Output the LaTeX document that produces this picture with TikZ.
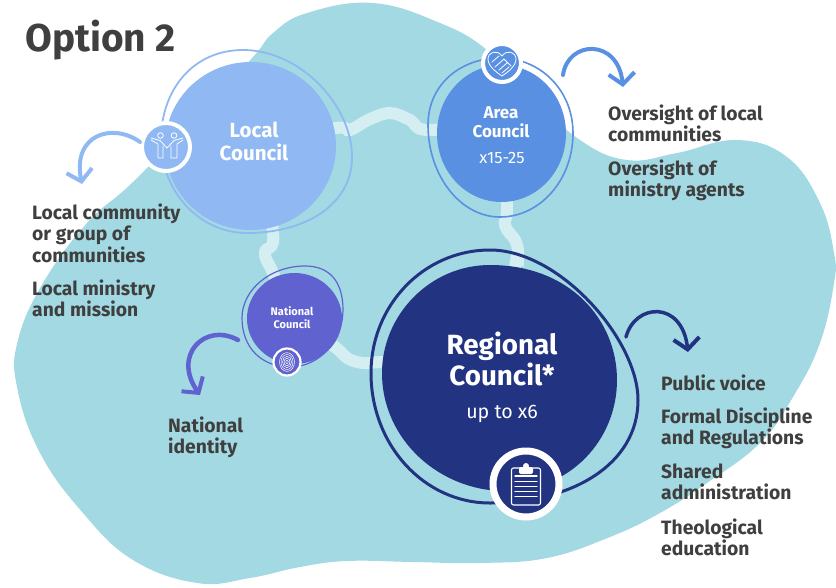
\documentclass[tikz,border=0pt]{standalone}
\usepackage{fontspec}
\setmainfont{Fira Sans}
\usetikzlibrary{arrows.meta,backgrounds}

\definecolor{blobcol}{HTML}{A3D9E2}
\definecolor{linkcol}{HTML}{D5EEF2}
\definecolor{localcol}{HTML}{90B8F2}
\definecolor{areacol}{HTML}{5A90E2}
\definecolor{nationalcol}{HTML}{6062D0}
\definecolor{regionalcol}{HTML}{223382}
\definecolor{inkcol}{HTML}{3F3F3F}

\tikzset{
  iconbadge/.style={circle, inner sep=0pt, draw=white, fill=#1},
  linkline/.style={line width=12pt, linkcol},
  handarrow/.style={line width=4pt, line cap=round, line join=round, -{Straight Barb[length=11pt,width=26pt,line width=4pt]}},
  infotext/.style={anchor=north west, align=left, inkcol, font=\fontsize{19.3}{21.5}\selectfont\bfseries, inner sep=0pt},
  namelabel/.style 2 args={white, align=center, font=\fontsize{#1}{#2}\selectfont\bfseries, inner sep=0pt},
  iconline/.style={white, line width=0.8pt, line join=round, line cap=round}
}

\begin{document}
\begin{tikzpicture}[x=1pt, y=-1pt]
  \useasboundingbox (0,0) rectangle (836,587);

  % Council names
  \node[namelabel={20.5}{23}] (localcouncil) at (254,141) {Local\\Council};
  \node[namelabel={17}{19.5}] (areacouncil) at (501,122) {Area\\Council};
  \node[namelabel={11}{13}] (nationalcouncil) at (292,318) {National\\Council};
  \node[namelabel={27.8}{31}] (regionalcouncil) at (502,359) {Regional\\Council*};
  \node[white, font=\fontsize{16.5}{18}\selectfont, inner sep=0pt] (areacount) at (502,158) {x15-25};
  \node[white, font=\fontsize{19.6}{22}\selectfont, inner sep=0pt] (regionalcount) at (502,414) {up to x6};

  % Blob, wavy links and council shapes go behind
  \begin{scope}[on background layer]
    \fill[blobcol] plot[smooth cycle, tension=0.7] coordinates {
      (307,13) (373,3) (440,23) (487,50) (530,95) (580,140) (627,160) (677,153)
      (737,140) (787,157) (820,203) (834,253) (834,283) (820,343) (793,397) (760,443)
      (707,483) (660,513) (610,537) (547,558) (480,563) (413,562) (347,561) (300,567)
      (250,578) (197,583) (133,560) (83,513) (40,453) (17,387) (18,340) (43,283)
      (87,223) (133,182) (200,113) (253,57) (273,33)};

    \draw[linkline] plot[smooth, tension=0.6] coordinates {(localcouncil) (336,128) (350,130) (368,120) (390,113) (410,120) (428,130) (areacouncil)};
    \draw[linkline] plot[smooth, tension=0.7] coordinates {(localcouncil) (273,232) (265,253) (273,273) (nationalcouncil)};
    \draw[linkline] plot[smooth, tension=0.6] coordinates {(nationalcouncil) (335,347) (347,358) (363,363) (385,362) (regionalcouncil)};
    \draw[linkline] plot[smooth, tension=0.7] coordinates {(areacouncil) (507,203) (505,225) (515,240) (518,253) (515,267) (regionalcouncil)};

    \fill[localcol] (250.5,146) ellipse (85.5 and 84);
    \fill[areacol] (501.5,133.5) ellipse (64.5 and 68.5);
    \fill[nationalcol] (294.5,318.5) ellipse (47.5 and 45.5);
    \fill[regionalcol] (490,265) .. controls (430,265) and (382,315) .. (382,373)
      .. controls (382,440) and (440,491) .. (505,491)
      .. controls (570,491) and (617,440) .. (617,380)
      .. controls (617,320) and (570,265) .. (490,265) -- cycle;

    % Thin rings round the councils
    \draw[localcol, line width=1.8pt] (243,50) .. controls (193,50) and (161,90) .. (161,140)
      .. controls (161,192) and (200,233) .. (247,233)
      .. controls (305,233) and (352,205) .. (352,157)
      .. controls (352,105) and (300,50) .. (243,50) -- cycle;
    \draw[areacol, line width=1.6pt] (500,58) .. controls (460,58) and (428,85) .. (428,125)
      .. controls (428,175) and (460,217) .. (500,217)
      .. controls (540,217) and (573,180) .. (573,133)
      .. controls (573,90) and (540,58) .. (500,58) -- cycle;
    \draw[nationalcol, line width=1.2pt] (305,266) .. controls (270,266) and (242,290) .. (242,318)
      .. controls (242,348) and (262,367) .. (290,367)
      .. controls (320,367) and (343,340) .. (343,310)
      .. controls (343,282) and (330,266) .. (305,266) -- cycle;
    \draw[regionalcol, line width=3pt] (490,250) .. controls (424,250) and (371,305) .. (371,373)
      .. controls (371,445) and (424,503) .. (490,503)
      .. controls (571,503) and (638,465) .. (638,400)
      .. controls (638,340) and (560,250) .. (490,250) -- cycle;
  \end{scope}

  % Icon badges
  \node[iconbadge=localcol, line width=4pt, minimum size=48pt] (localicon) at (166,147) {};
  \node[iconbadge=areacol, line width=4pt, minimum size=38pt] (areaicon) at (502,63) {};
  \node[iconbadge=nationalcol, line width=2.2pt, minimum size=27pt] (nationalicon) at (287,362) {};
  \node[iconbadge=regionalcol, line width=7pt, minimum size=66pt] (regionalicon) at (526,484) {};

  % Two people
  \begin{scope}[shift={(localicon.center)}, iconline]
    \draw (-5.5,-11.5) circle (2.8);
    \draw (8,-11.5) circle (2.8);
    \draw (-15,-9) -- (-6,-6.5) -- (1,1) -- (8,-6.5) -- (17,-9);
    \draw (-15,-7) -- (-8,-3) -- (-8,11) -- (-3,11) -- (-3,-1);
    \draw (17,-7) -- (11,-3) -- (11,11) -- (5,11) -- (5,-1);
  \end{scope}

  % Heart with handshake
  \begin{scope}[shift={(areaicon.center)}, iconline]
    \draw (0,-7) .. controls (-5,-14) and (-14,-11) .. (-14,-4) .. controls (-14,3) and (-6,9) .. (0,13)
      .. controls (6,9) and (14,3) .. (14,-4) .. controls (14,-11) and (5,-14) .. (0,-7);
    \draw (-7,4) -- (2,-4) -- (9,3) (-3,7) -- (5,0) (-10,-1) -- (-3,-7) (0,10) -- (7,4);
  \end{scope}

  % Fingerprint
  \begin{scope}[shift={(nationalicon.center)}, iconline, line width=0.5pt]
    \foreach \r in {1.5,3,4.5,6,7.5} {
      \draw (0,0) ellipse ({\r} and {1.25*\r});
    }
  \end{scope}

  % Clipboard
  \begin{scope}[shift={(regionalicon.center)}, iconline, line width=1.1pt]
    \draw[rounded corners=2pt] (-14.5,-16) rectangle (14.5,21);
    \fill[white, rounded corners=2pt] (-7,-17) rectangle (7,-10);
    \fill[white] (0,-18) circle (3);
    \foreach \ypos in {-8,-2.5,2.5,7.5,12.5} {
      \draw (-11,\ypos) -- (11,\ypos);
    }
  \end{scope}

  % Texts
  \node[inkcol, font=\fontsize{38.8}{42}\selectfont\bfseries, anchor=west, inner sep=0pt] (optiontitle) at (25,40.5) {Option 2};

  \node[infotext] (localtext) at (32,203.5) {Local community\\or group of\\communities};
  \node[infotext] (localtextb) at (32,279.5) {Local ministry\\and mission};
  \node[infotext] (areatext) at (608,104.5) {Oversight of local\\communities};
  \node[infotext] (areatextb) at (608,159.5) {Oversight of\\ministry agents};
  \node[infotext] (nationaltext) at (168,416.5) {National\\identity};
  \node[infotext] (regionaltext) at (661,374.5) {Public voice};
  \node[infotext] (regionaltextb) at (661,407.5) {Formal Discipline\\and Regulations};
  \node[infotext] (regionaltextc) at (661,463.5) {Shared\\administration};
  \node[infotext] (regionaltextd) at (661,518.5) {Theological\\education};

  % Curved arrows
  \coordinate (localstart) at (140,142);
  \coordinate (localtip) at (82,184);
  \coordinate (areastart) at (563,75);
  \coordinate (areatip) at (623,87);
  \coordinate (nationalstart) at (238,340);
  \coordinate (nationaltip) at (200,395);
  \coordinate (regionalstart) at (626,337);
  \coordinate (regionaltip) at (688,352);
  \draw[handarrow, localcol] (localstart) .. controls (112,122) and (72,135) .. (localtip);
  \draw[handarrow, areacol] (areastart) .. controls (568,40) and (618,38) .. (areatip);
  \draw[handarrow, nationalcol, line width=4.5pt] (nationalstart) .. controls (205,322) and (172,355) .. (nationaltip);
  \draw[handarrow, regionalcol, line width=3.5pt] (regionalstart) .. controls (635,303) and (682,300) .. (regionaltip);
\end{tikzpicture}
\end{document}
